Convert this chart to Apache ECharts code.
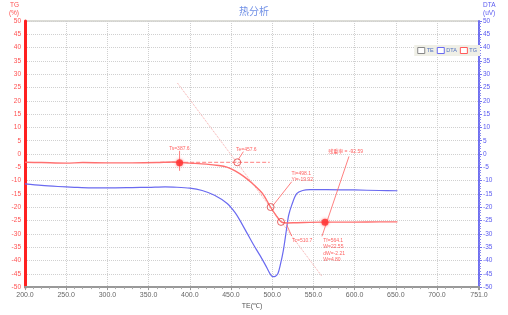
<!DOCTYPE html>
<html><head><meta charset="utf-8">
<script src="https://cdn.jsdelivr.net/npm/echarts@6/dist/echarts.min.js"></script>
<style>html,body{margin:0;padding:0;background:#fff}#c{width:508px;height:315px}</style>
</head><body><div id="c"></div>
<script>
// ---- data ----
const xTicksMin = 200, xTicksMax = 751;
const tgX = [200,220,250,270,300,330,360,380,400,420,435,445,455,465,475,485,490,498,505,511,518,530,560,600,630,652];
const tgY = [-3.1,-3.2,-3.4,-3.2,-3.3,-3.3,-3.2,-3.0,-3.4,-3.8,-4.3,-4.9,-6.3,-8.3,-10.8,-13.7,-15.6,-19.9,-23.2,-25.5,-25.9,-25.8,-25.6,-25.6,-25.5,-25.5];
const dtaX = [200,220,240,260,280,300,330,350,370,380,400,415,430,445,455,461,470,477,485,493,498,501,504,507,510,513.5,517.6,520,523.7,529.7,537,546,566,600,630,652];
const dtaY = [-11.2,-11.8,-12.2,-12.5,-12.7,-12.7,-12.6,-12.5,-12.3,-12.4,-12.8,-13.7,-15.5,-18.5,-22,-25,-30,-33.9,-38,-42.4,-45.3,-46.1,-45.9,-44.9,-41.5,-36.3,-27.8,-23,-19.2,-14.9,-13.7,-13.4,-13.4,-13.5,-13.7,-13.8];
const tangentLine = [[385,26.7],[560,-45.8]];
const baselineExt = [[364,-3.1],[497,-3.1]];
const leaderLines = [
  [[387.6,1.2],[387.6,-6.3]],
  [[465,0.9],[459,-2.0]],
  [[523.7,-10.4],[501.3,-19.2]],
  [[517.6,-26.6],[523.7,-30.8]],
  [[593.2,-0.9],[560.4,-30.9]]
];
const hollowMarks = [[457.6,-3.1],[498.1,-19.92],[510.7,-25.5]];
const filledMarks = [[387.6,-3.3],[564.1,-25.6]];
const labelTexts = ['Ts=387.6','Te=457.6','Ti=498.1\nYi=-19.92','Tc=510.7','Tf=564.1\nW=22.55\ndW=-2.21\nW=4.80','残重率 = -92.59'];
const labelAnchors = [[375,3.3],[456,3.0],[523.5,-6.0],[524,-31.2],[562,-31.2],[568,2.2]];
const legendNames = ['TE','DTA','TG'];

const RED = '#ff5a5a', BLUE = '#6a6af0';
const zip = (a,b) => a.map((v,i)=>[v,b[i]]);

const series = [
  {name:'TE', type:'line', data:[], itemStyle:{color:'#888'}, lineStyle:{color:'#888'}},
  {name:'DTA', type:'line', yAxisIndex:1, data:zip(dtaX,dtaY), smooth:0.3, symbol:'none',
    itemStyle:{color:BLUE}, lineStyle:{color:BLUE, width:1.2}, z:3},
  {name:'TG', type:'line', yAxisIndex:0, data:zip(tgX,tgY), smooth:0.3, symbol:'none',
    itemStyle:{color:RED}, lineStyle:{color:'#ff7070', width:1.4}, z:4},
  {type:'line', data:tangentLine, symbol:'none', silent:true,
    lineStyle:{color:'#f7a8a8', width:1, type:'dotted'}, z:2},
  {type:'line', data:baselineExt, symbol:'none', silent:true,
    lineStyle:{color:'#ff8080', width:1, type:'dashed'}, z:2}
];
leaderLines.forEach(seg => series.push({type:'line', data:seg, symbol:'none', silent:true,
  lineStyle:{color:'#ff6060', width:0.8}, z:5}));
series.push({type:'scatter', data:hollowMarks, symbol:'circle', symbolSize:7, silent:true,
  itemStyle:{color:'rgba(255,255,255,0)', borderColor:'#e04040', borderWidth:1}, z:6});
series.push({type:'scatter', data:filledMarks, symbol:'circle', symbolSize:7, silent:true,
  itemStyle:{color:'#ff3030', shadowBlur:3, shadowColor:'#ff6060'}, z:6});
series.push({type:'scatter', silent:true, symbolSize:0, z:7,
  data: labelAnchors.map((p,i)=>({value:p, name:labelTexts[i]})),
  label:{show:true, position:[0,0], align:'left', verticalAlign:'top',
    formatter: p => p.name, color:'#ff3a3a', fontSize:5, lineHeight:6.5,
    fontFamily:'Liberation Sans, Noto Sans CJK SC'}});

const chart = echarts.init(document.getElementById('c'), null, {renderer:'canvas'});
chart.setOption({
  animation:false,
  backgroundColor:'#fff',
  title:{text:'热分析', left:'center', top:1,
    textStyle:{color:'#6f8fe6', fontSize:10, fontWeight:'normal', fontFamily:'Noto Sans CJK SC'}},
  legend:{data:legendNames.map((n,i)=>({name:n, itemStyle:{color:'#fff', borderColor:['#888','#6a6af0','#ff5a5a'][i], borderWidth:1}})),
    right:28, top:45, itemWidth:7, itemHeight:6, itemGap:3,
    backgroundColor:'#efefe6', padding:[2,3], icon:'rect',
    textStyle:{color:'#5070c0', fontSize:5.5, padding:[0,0,0,-3]}},
  grid:{left:25, right:29, top:21, bottom:21, show:true, borderColor:'#dcdcd6', borderWidth:2},
  xAxis:{type:'value', min:xTicksMin, max:xTicksMax, interval:50,
    name:'TE(℃)', nameLocation:'middle', nameGap:13,
    nameTextStyle:{color:'#555', fontSize:7},
    axisLine:{show:true, onZero:false, lineStyle:{color:'#999', width:2}},
    axisTick:{show:true, length:3, lineStyle:{color:'#999'}},
    minorTick:{show:true, splitNumber:5, length:2, lineStyle:{color:'#aaa'}},
    axisLabel:{color:'#666', fontSize:7, margin:4,
      formatter: v => (v===750 ? '' : v.toFixed(1))},
    splitLine:{show:true, lineStyle:{color:'#d0d0d0', type:'dotted'}}},
  yAxis:[
    {type:'value', min:-50, max:50, interval:5, position:'left',
      name:'TG\n(%)', nameLocation:'end', nameGap:4,
      nameTextStyle:{color:'#ff5050', fontSize:6.5, align:'right', padding:[0,6,0,0], lineHeight:8},
      axisLine:{show:true, lineStyle:{color:'#ff2020', width:3}},
      axisTick:{show:false},
      axisLabel:{color:'#ff5050', fontSize:6.5, margin:4},
      splitLine:{show:true, lineStyle:{color:'#d0d0d0', type:'dotted'}}},
    {type:'value', min:-50, max:50, interval:5, position:'right',
      name:'DTA\n(uV)', nameLocation:'end', nameGap:4,
      nameTextStyle:{color:'#5a5af0', fontSize:6.5, align:'left', padding:[0,0,0,4], lineHeight:8},
      axisLine:{show:true, lineStyle:{color:'#7070f0', width:2}},
      axisTick:{show:true, length:3, lineStyle:{color:'#7070f0'}},
      minorTick:{show:true, splitNumber:5, length:2, lineStyle:{color:'#8888f0'}},
      axisLabel:{color:'#5a5af0', fontSize:6.5, margin:4},
      splitLine:{show:false}}
  ],
  series: series
});
</script></body></html>
